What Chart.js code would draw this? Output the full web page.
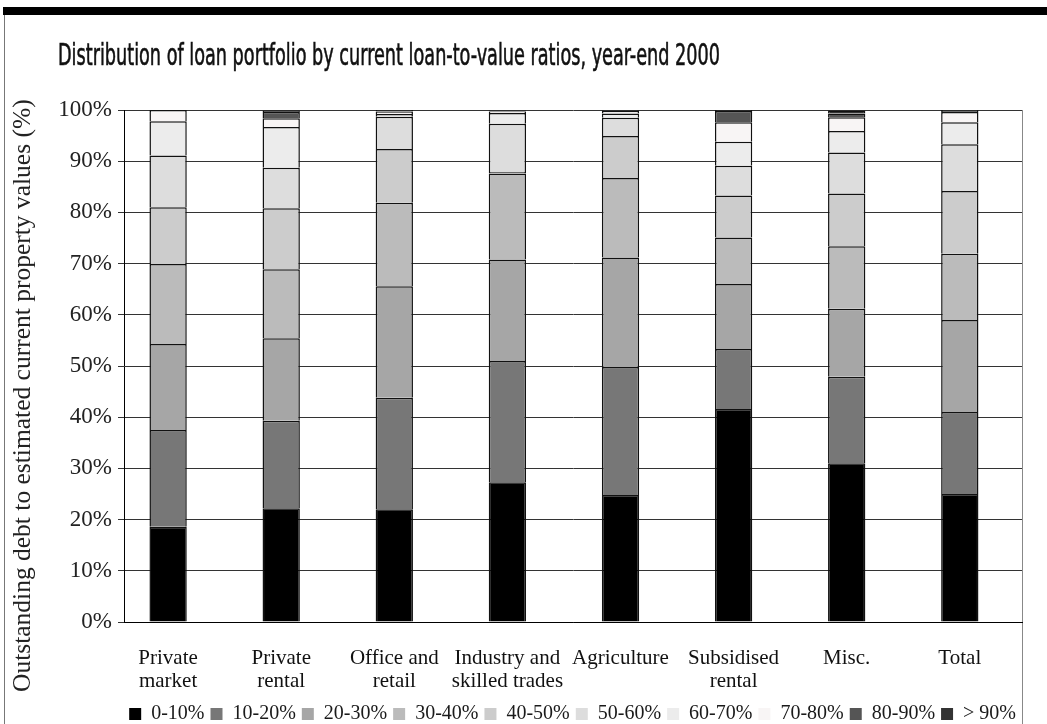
<!DOCTYPE html>
<html>
<head>
<meta charset="utf-8">
<script src="https://cdn.jsdelivr.net/npm/chart.js@4/dist/chart.umd.min.js"></script>
<style>
  html, body { margin: 0; padding: 0; background: #fff; }
  #wrap { position: relative; width: 1047px; height: 724px; overflow: hidden; }
  #chart { position: absolute; left: 0; top: 0; }
  .band { position: absolute; left: 3px; top: 7px; width: 1044px; height: 8px; background: #000; }
  .edgeL { position: absolute; left: 4px; top: 15px; width: 1px; height: 709px; background: #777; }
  .edgeR { position: absolute; left: 1022px; top: 110px; width: 1px; height: 614px; background: #888; }
  #title {
    position: absolute; left: 58px; top: 39px; white-space: nowrap;
    font-family: "Liberation Sans Narrow", "DejaVu Sans Condensed", "Roboto", sans-serif;
    font-size: 31px; line-height: 31px; color: #111; transform-origin: 0 0;
    -webkit-text-stroke: 0.6px #111;
  }
  #ytitle {
    position: absolute; left: 9px; top: 692px; white-space: nowrap;
    font-family: "Liberation Serif", serif; font-size: 25.5px; line-height: 26px; color: #222;
    transform-origin: 0 0; transform: rotate(-90deg);
  }
</style>
</head>
<body>
<div id="wrap">
  <div class="band"></div>
  <div class="edgeL"></div>
  <div class="edgeR"></div>
  <canvas id="chart" width="1047" height="724"></canvas>
  <div id="title">Distribution of loan portfolio by current loan-to-value ratios, year-end 2000</div>
  <div id="ytitle">Outstanding debt to estimated current property values (%)</div>
</div>
<script>
// loan types along the x axis
const categories = [
    ['Private', 'market'],
    ['Private', 'rental'],
    ['Office and', 'retail'],
    ['Industry and', 'skilled trades'],
    'Agriculture',
    ['Subsidised', 'rental'],
    'Misc.',
    'Total'
];

// LTV bands, bottom of the stack first
const bands = ['0-10%', '10-20%', '20-30%', '30-40%', '40-50%', '50-60%', '60-70%', '70-80%', '80-90%', '> 90%'];

// share of each loan type in each band (%)
const ltv0to10   = [18.6, 22.2, 22.0, 27.3, 24.8, 41.6, 31.0, 25.0];
const ltv10to20  = [18.9, 17.1, 21.8, 23.7, 25.0, 11.7, 16.9, 16.0];
const ltv20to30  = [16.8, 16.1, 21.8, 19.8, 21.4, 12.7, 13.3, 18.0];
const ltv30to40  = [15.6, 13.5, 16.3, 16.8, 15.5,  9.1, 12.2, 12.9];
const ltv40to50  = [11.1, 11.9, 10.5,  0.3,  8.2,  8.2, 10.3, 12.3];
const ltv50to60  = [10.1,  7.9,  6.3,  9.4,  3.6,  5.8,  8.0,  9.1];
const ltv60to70  = [ 6.7,  8.0,  0.5,  2.1,  0.8,  4.7,  4.2,  4.3];
const ltv70to80  = [ 2.2,  1.7,  0.5,  0.3,  0.5,  3.8,  2.7,  2.0];
const ltv80to90  = [ 0.0,  1.2,  0.1,  0.1,  0.1,  2.2,  0.7,  0.2];
const ltvOver90  = [ 0.0,  0.3,  0.2,  0.1,  0.1,  0.2,  0.6,  0.2];

const yTicks = [0, 10, 20, 30, 40, 50, 60, 70, 80, 90, 100];

const series = [ltv0to10, ltv10to20, ltv20to30, ltv30to40, ltv40to50,
                ltv50to60, ltv60to70, ltv70to80, ltv80to90, ltvOver90];
const fills = ['#000000', '#777777', '#a6a6a6', '#bbbbbb', '#cccccc',
               '#dddddd', '#ececec', '#f8f5f5', '#555555', '#333333'];

const serif = '"Liberation Serif", "Times New Roman", serif';

// squeeze the title to the width it has in the original
const titleEl = document.getElementById('title');
const titleW = titleEl.getBoundingClientRect().width;
titleEl.style.transform = 'scaleX(' + (662 / titleW) + ')';

// bars sit on a numeric x axis so the columns can be placed off-centre like the original
const datasets = series.map(function(values, i) {
    return {
        label: bands[i],
        data: values.map(function(v, k) { return { x: k, y: v }; }),
        backgroundColor: fills[i],
        borderColor: '#111',
        borderWidth: 1.5,
        barPercentage: 0.33,
        categoryPercentage: 1
    };
});

new Chart(document.getElementById('chart'), {
    type: 'bar',
    data: { datasets: datasets },
    options: {
        responsive: false,
        devicePixelRatio: 1,
        animation: false,
        layout: { padding: { top: 110, right: 25, left: 0, bottom: -10 } },
        plugins: {
            title: { display: false },
            tooltip: { enabled: false },
            legend: {
                position: 'bottom',
                align: 'end',
                labels: {
                    boxWidth: 12,
                    boxHeight: 12,
                    padding: 6,
                    color: '#1a1a1a',
                    font: { family: serif, size: 20 },
                    generateLabels: function(chart) {
                        return Chart.defaults.plugins.legend.labels.generateLabels(chart).map(function(l) {
                            l.lineWidth = 0;
                            l.strokeStyle = l.fillStyle;
                            return l;
                        });
                    }
                }
            }
        },
        scales: {
            x: {
                type: 'linear',
                stacked: true,
                offset: false,
                min: -0.39,
                max: 7.55,
                afterBuildTicks: function(scale) {
                    scale.ticks = categories.map(function(c, i) { return { value: i }; });
                },
                grid: { display: false, drawTicks: false, offset: false },
                border: { display: true, color: '#000' },
                ticks: {
                    color: '#111',
                    font: { family: serif, size: 21, lineHeight: 1.1 },
                    padding: 25,
                    maxRotation: 0,
                    autoSkip: false,
                    callback: function(v) { return categories[v]; }
                },
                afterFit: function(scale) { scale.height = 76; }
            },
            y: {
                stacked: true,
                min: 0,
                max: 100,
                afterBuildTicks: function(scale) {
                    scale.ticks = yTicks.map(function(v) { return { value: v }; });
                },
                grid: { color: '#333', lineWidth: 1, tickLength: 6 },
                border: { color: '#000', width: 1 },
                ticks: {
                    color: '#222',
                    font: { family: serif, size: 23 },
                    padding: 6,
                    callback: function(v) { return v + '%'; }
                },
                afterFit: function(scale) { scale.width = 124; }
            }
        }
    }
});
</script>
</body>
</html>
